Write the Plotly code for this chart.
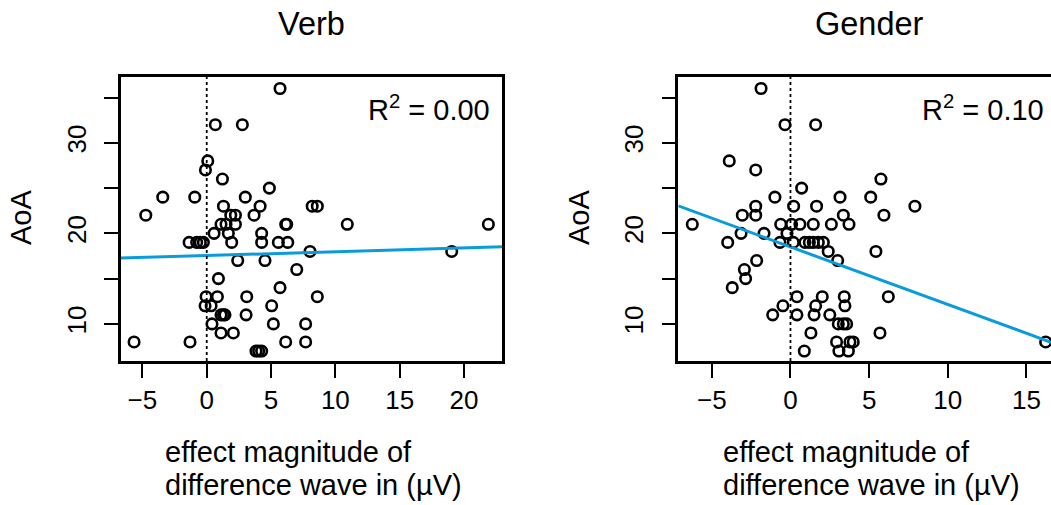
import plotly.graph_objects as go

W, H = 1051, 505
FONT = "Liberation Sans, Arial, Helvetica, sans-serif"

# ---------------- data ----------------
verb_x = [5.7, 0.67, 2.77, 0.08, -0.10, 1.22, -3.42, -0.93, 3.0, 4.87, -4.74, 1.30, 4.15, 8.2, 8.6,
          1.87, 2.23, 3.68, 1.11, 1.50, 2.23, 6.14, 6.22, 10.93, 21.9, 0.57, 1.68, 4.27,
          -1.37, -0.78, -0.5, -0.26, 1.94, 4.27, 5.57, 6.30, 8.03, 19.05, 2.41, 4.53, 7.0,
          0.91, 5.70, -0.05, 0.83, 3.11, 8.6, -0.13, 0.34, 5.05, 1.11, 1.30, 1.42, 3.06,
          0.41, 5.18, 7.69, 1.11, 2.07, -5.65, -1.30, 6.14, 7.69, 3.83, 4.04, 4.27]
verb_y = [36, 32, 32, 28, 27, 26, 24, 24, 24, 25, 22, 23, 23, 23, 23,
          22, 22, 22, 21, 21, 21, 21, 21, 21, 21, 20, 20, 20,
          19, 19, 19, 19, 19, 19, 19, 19, 18, 18, 17, 17, 16,
          15, 14, 13, 13, 13, 13, 12, 12, 12, 11, 11, 11, 11,
          10, 10, 10, 9, 9, 8, 8, 8, 8, 7, 7, 7]

gender_x = [-1.87, -0.35, 1.60, -3.89, -2.21, 5.75, 0.71, -0.99, 3.15, 5.1, -2.21, 0.20, 1.66, 7.91,
            -3.06, -2.21, 3.36, 5.94, -6.24, -0.62, 0.07, 0.60, 1.45, 2.6, 3.72, -3.14, -1.68, -0.22,
            -3.99, -0.67, 0.18, 0.92, 1.2, 1.45, 1.77, 2.09, 2.40, 5.43, -2.15, 3.0, -2.93, -2.85,
            -3.7, 0.41, 2.02, 3.42, 6.22, -0.48, 1.60, 3.46, -1.13, 0.41, 1.5, 2.5, 3.04, 3.36,
            3.57, 1.3, 5.69, 2.93, 3.78, 3.99, 16.22, 0.88, 3.08, 3.68]
gender_y = [36, 32, 32, 28, 27, 26, 25, 24, 24, 24, 23, 23, 23, 23,
            22, 22, 22, 22, 21, 21, 21, 21, 21, 21, 21, 20, 20, 20,
            19, 19, 19, 19, 19, 19, 19, 19, 18, 18, 17, 17, 16, 15,
            14, 13, 13, 13, 13, 12, 12, 12, 11, 11, 11, 11, 10, 10,
            10, 9, 9, 8, 8, 8, 8, 7, 7, 7]

# regression lines (intercept, slope) and R^2 labels
verb_fit = (17.55, 0.042)
gender_fit = (18.5, -0.636)
verb_r2 = "0.00"
gender_r2 = "0.10"

panel_titles = ["Verb", "Gender"]
y_title = "AoA"
x_title_lines = ["effect magnitude of", "difference wave in (µV)"]

verb_xticks = [-5, 0, 5, 10, 15, 20]
gender_xticks = [-5, 0, 5, 10, 15]
y_ticks = [10, 15, 20, 25, 30, 35]
y_ticklabels = ["10", " ", "20", " ", "30", " "]

# ---------------- layout geometry (pixels) ----------------
verb_xrange = [-6.69, 22.96]
gender_xrange = [-7.13, 16.56]
y_range = [5.9, 37.27]

def px(x):
    return x / W

def py(y):
    return 1 - y / H

BLUE = "#0a9bdc"

fig = go.Figure()

for i, (xs, ys, fit, xr) in enumerate([(verb_x, verb_y, verb_fit, verb_xrange),
                                       (gender_x, gender_y, gender_fit, gender_xrange)]):
    xa = "x" if i == 0 else "x2"
    ya = "y" if i == 0 else "y2"
    fig.add_trace(go.Scatter(
        x=xs, y=ys, mode="markers", xaxis=xa, yaxis=ya,
        marker=dict(symbol="circle-open", size=10.5, color="black", line=dict(width=2.6, color="black")),
        showlegend=False, hoverinfo="skip"))
    a, b = fit
    fig.add_trace(go.Scatter(
        x=[xr[0], xr[1]], y=[a + b * xr[0], a + b * xr[1]], mode="lines", xaxis=xa, yaxis=ya,
        line=dict(color=BLUE, width=3), showlegend=False, hoverinfo="skip"))
    # dotted line at zero
    fig.add_shape(type="line", xref=xa, yref=(ya + " domain"), x0=0, x1=0, y0=0, y1=1,
                  line=dict(color="black", width=1.8, dash="dot"))

axis_common = dict(showgrid=False, zeroline=False, showline=True, linecolor="black", linewidth=2.5,
                   ticks="outside", ticklen=14, tickwidth=2, tickcolor="black",
                   tickfont=dict(family=FONT, size=26, color="black"))

ydom = [py(361), py(77)]

fig.update_layout(
    width=W, height=H, autosize=False,
    margin=dict(l=0, r=0, t=0, b=0),
    paper_bgcolor="white", plot_bgcolor="white",
    xaxis=dict(domain=[px(120.7), px(502)], range=verb_xrange, tickvals=verb_xticks,
               ticktext=[str(v).replace("-", "\u2212") for v in verb_xticks],
               mirror=True, anchor="y", ticklabelstandoff=0, **axis_common),
    yaxis=dict(domain=ydom, range=y_range, tickvals=y_ticks, ticktext=y_ticklabels,
               tickangle=-90, mirror=True, anchor="x", ticklabelstandoff=8, **axis_common),
    xaxis2=dict(domain=[px(678.3), 1.0], range=gender_xrange, tickvals=gender_xticks,
                ticktext=[str(v).replace("-", "\u2212") for v in gender_xticks],
                mirror=True, anchor="y2", ticklabelstandoff=0, **axis_common),
    yaxis2=dict(domain=ydom, range=y_range, tickvals=y_ticks, ticktext=y_ticklabels,
                tickangle=-90, mirror=False, anchor="x2", ticklabelstandoff=8, **axis_common),
)

ann = []
for cx, title in zip([311, 869], panel_titles):
    ann.append(dict(text=title, x=px(cx), y=py(24), xref="paper", yref="paper",
                    xanchor="center", yanchor="middle", showarrow=False,
                    font=dict(family=FONT, size=32.5, color="black")))
for cx in [21, 579]:
    ann.append(dict(text=y_title, x=px(cx), y=py(218), xref="paper", yref="paper", textangle=-90,
                    xanchor="center", yanchor="middle", showarrow=False,
                    font=dict(family=FONT, size=29, color="black")))
for lx in [163, 720.5]:
    for line_text, cy in zip(x_title_lines, [451.5, 485]):
        ann.append(dict(text=line_text, x=px(lx), y=py(cy), xref="paper", yref="paper",
                        xanchor="left", yanchor="middle", align="left", showarrow=False,
                        font=dict(family=FONT, size=29, color="black")))
for rx, r2 in [(492, verb_r2), (1046, gender_r2)]:
    ann.append(dict(text="R<sup>2</sup> = " + r2, x=px(rx), y=py(108), xref="paper", yref="paper",
                    xanchor="right", yanchor="middle", showarrow=False,
                    font=dict(family=FONT, size=29, color="black")))
fig.update_layout(annotations=ann)

fig.write_html("out.html", config={"displayModeBar": False},
               post_script="document.body.style.margin='0';document.body.style.overflow='hidden';")
